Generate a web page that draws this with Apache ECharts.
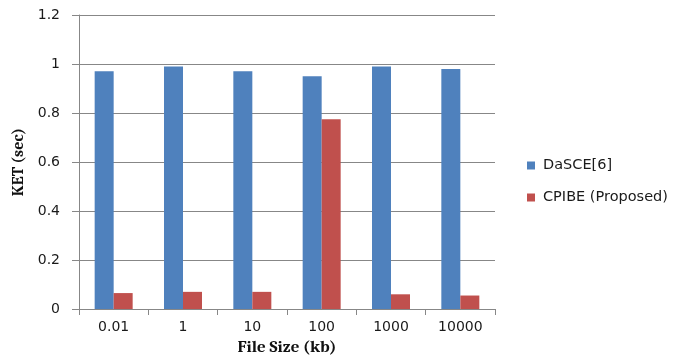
<!DOCTYPE html>
<html>
<head>
<meta charset="utf-8">
<script src="https://cdn.jsdelivr.net/npm/echarts@6/dist/echarts.min.js"></script>
<style>
  html, body { margin: 0; padding: 0; background: #fff; }
  #chart { width: 684px; height: 356px; }
</style>
</head>
<body>
<div id="chart"></div>
<script>
// File sizes (kb) on the x axis
const fileSizes = ['0.01', '1', '10', '100', '1000', '10000'];
// Key extraction time (sec) per scheme
const dasceValues = [0.97, 0.99, 0.97, 0.95, 0.99, 0.98];
const cpibeValues = [0.065, 0.07, 0.07, 0.775, 0.06, 0.055];
const seriesNames = ['DaSCE[6]', 'CPIBE (Proposed)'];

const tickFont = 'Tahoma, "DejaVu Sans", sans-serif';
const titleFont = 'Cambria, "Liberation Serif", "DejaVu Serif", serif';

const chart = echarts.init(document.getElementById('chart'), null, { renderer: 'canvas' });
chart.setOption({
  animation: false,
  backgroundColor: '#ffffff',
  grid: { left: 79, right: 189, top: 15, bottom: 47, containLabel: false, outerBoundsMode: 'none' },
  legend: {
    orient: 'vertical',
    left: 522,
    top: 153,
    itemWidth: 8,
    itemHeight: 8,
    itemGap: 17,
    icon: 'rect',
    textStyle: { fontFamily: tickFont, fontSize: 14.5, color: '#1a1a1a', padding: [0, 0, 0, 3] },
    data: seriesNames
  },
  xAxis: {
    type: 'category',
    data: fileSizes,
    name: 'File Size (kb)',
    nameLocation: 'middle',
    nameGap: 30,
    nameTextStyle: { fontFamily: titleFont, fontWeight: 'bold', fontSize: 17, color: '#111' },
    axisLine: { lineStyle: { color: '#878787', width: 1 } },
    axisTick: { show: true, length: 6, alignWithLabel: false, lineStyle: { color: '#878787' } },
    axisLabel: { fontFamily: tickFont, fontSize: 14, color: '#1a1a1a', margin: 11 }
  },
  yAxis: {
    type: 'value',
    min: 0,
    max: 1.2,
    interval: 0.2,
    name: 'KET (sec)',
    nameLocation: 'middle',
    nameGap: 46,
    nameRotate: 90,
    nameTextStyle: { fontFamily: titleFont, fontWeight: 'bold', fontSize: 16, color: '#111' },
    axisLine: { show: true, lineStyle: { color: '#878787', width: 1 } },
    axisTick: { show: true, length: 7, lineStyle: { color: '#878787' } },
    splitLine: { show: true, lineStyle: { color: '#878787', width: 1 } },
    axisLabel: {
      fontFamily: tickFont, fontSize: 14, color: '#1a1a1a', margin: 19,
      formatter: v => String(Math.round(v * 10) / 10)
    }
  },
  series: [
    {
      name: seriesNames[0],
      type: 'bar',
      data: dasceValues,
      barWidth: 19,
      barGap: '0%',
      itemStyle: { color: '#4F81BD' }
    },
    {
      name: seriesNames[1],
      type: 'bar',
      data: cpibeValues,
      barWidth: 19,
      barGap: '0%',
      itemStyle: { color: '#C0504D' }
    }
  ]
});
</script>
</body>
</html>
